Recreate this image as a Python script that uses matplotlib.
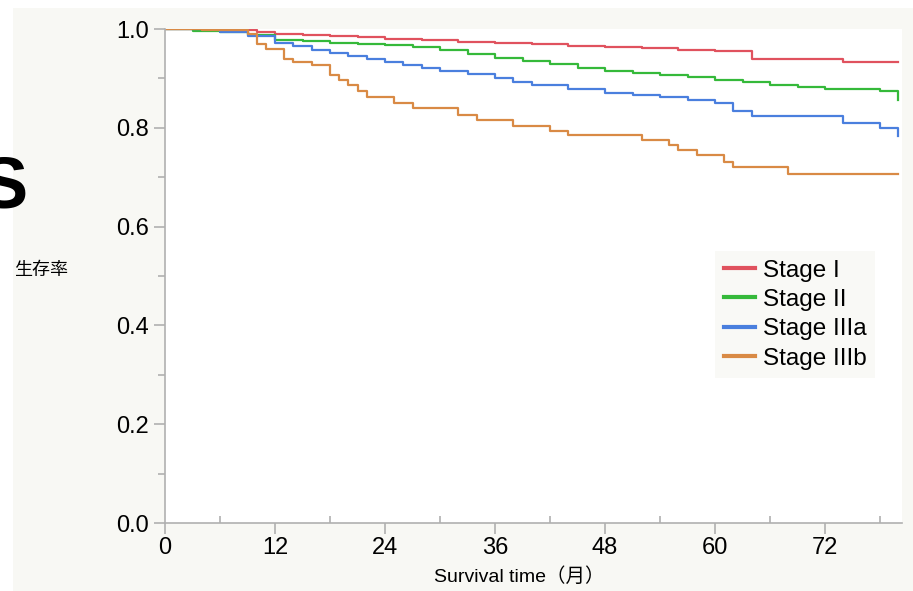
import matplotlib.pyplot as plt
from matplotlib.patches import Rectangle

plt.rcParams['font.family'] = ['Liberation Sans', 'Noto Sans CJK JP', 'DejaVu Sans']

# step points (month, survival)
t1 = [0, 8, 10, 12, 15, 18, 21, 24, 28, 32, 36, 40, 44, 48, 52, 56, 60, 64, 74, 80]
s1 = [1.0, 0.997, 0.994, 0.99, 0.987, 0.985, 0.983, 0.98, 0.977, 0.974, 0.972, 0.969, 0.966, 0.964, 0.962, 0.958, 0.955, 0.94, 0.933, 0.933]
t2 = [0, 3, 6, 9, 12, 15, 18, 21, 24, 27, 30, 33, 36, 39, 42, 45, 48, 51, 54, 57, 60, 63, 66, 69, 72, 78, 80]
s2 = [1.0, 0.996, 0.993, 0.987, 0.978, 0.975, 0.972, 0.97, 0.968, 0.963, 0.958, 0.95, 0.941, 0.935, 0.929, 0.922, 0.915, 0.911, 0.907, 0.902, 0.897, 0.892, 0.887, 0.883, 0.879, 0.874, 0.856]
t3 = [0, 6, 9, 12, 14, 16, 18, 20, 22, 24, 26, 28, 30, 33, 36, 38, 40, 44, 48, 51, 54, 57, 60, 62, 64, 74, 78, 80]
s3 = [1.0, 0.993, 0.985, 0.972, 0.966, 0.958, 0.951, 0.945, 0.939, 0.933, 0.927, 0.921, 0.915, 0.908, 0.90, 0.893, 0.887, 0.878, 0.87, 0.866, 0.862, 0.856, 0.85, 0.834, 0.824, 0.81, 0.8, 0.783]
t4 = [0, 4, 9, 10, 11, 13, 14, 16, 18, 19, 20, 21, 22, 25, 27, 32, 34, 38, 42, 44, 52, 55, 56, 58, 61, 62, 68, 80]
s4 = [1.0, 0.997, 0.99, 0.97, 0.96, 0.94, 0.933, 0.927, 0.907, 0.897, 0.887, 0.875, 0.862, 0.85, 0.84, 0.826, 0.816, 0.804, 0.794, 0.785, 0.775, 0.765, 0.755, 0.745, 0.73, 0.72, 0.706, 0.706]

labels = ['Stage I', 'Stage II', 'Stage IIIa', 'Stage IIIb']
colors = ['#e0525e', '#35b93a', '#4a7fde', '#d98a45']

fig = plt.figure(figsize=(9.13, 5.91), dpi=100, facecolor='white')
fig.patches.append(Rectangle((13/913, 0), 1, 583/591, transform=fig.transFigure,
                             facecolor='#f8f8f4', edgecolor='none', zorder=-1))
ax = fig.add_axes([165/913, 68/591, 737/913, 494/591])
ax.set_facecolor('white')

for t, s, lab, c in zip([t1, t2, t3, t4], [s1, s2, s3, s4], labels, colors):
    ax.step(t, s, where='post', color=c, lw=1.6, label=lab)

ax.set_xlim(0, 80.4)
ax.set_ylim(0, 1.0)
ax.set_xticks(range(0, 80, 12))
ax.set_xticks(range(0, 81, 6), minor=True)
ax.set_yticks([0, 0.2, 0.4, 0.6, 0.8, 1.0])
ax.set_yticklabels(['0.0', '0.2', '0.4', '0.6', '0.8', '1.0'])
ax.set_yticks([i / 10 for i in range(11)], minor=True)
for sp in ['top', 'right']:
    ax.spines[sp].set_visible(False)
for sp in ['left', 'bottom']:
    ax.spines[sp].set_color('#b0b0b0')
    ax.spines[sp].set_linewidth(1.2)
ax.tick_params(which='both', color='#b0b0b0', labelsize=17, width=1.2)
ax.tick_params(which='major', length=8)
ax.tick_params(which='minor', length=5)
ax.tick_params(axis='x', which='major', pad=2)
ax.tick_params(axis='x', which='minor', direction='in')
ax.set_xlabel('Survival time（月）', fontsize=14, labelpad=0)
ax.xaxis.set_label_coords(0.48, -0.09)
fig.text(14/913, 1 - 270/591, '生存率', fontsize=13, va='center', ha='left')
fig.text(-0.022, 1 - 188/591, 'S', fontsize=52, fontweight='bold', va='center', ha='left')

leg = ax.legend(loc='upper left', bbox_to_anchor=(0.73, 0.575), fontsize=17.5,
                frameon=True, handlelength=1.3, handletextpad=0.3, borderpad=0.35,
                labelspacing=0.3, fancybox=False)
leg.get_frame().set_facecolor('#f8f8f4')
leg.get_frame().set_edgecolor('none')
for line in leg.get_lines():
    line.set_linewidth(3)

plt.savefig('out.png', dpi=100, facecolor=fig.get_facecolor())
